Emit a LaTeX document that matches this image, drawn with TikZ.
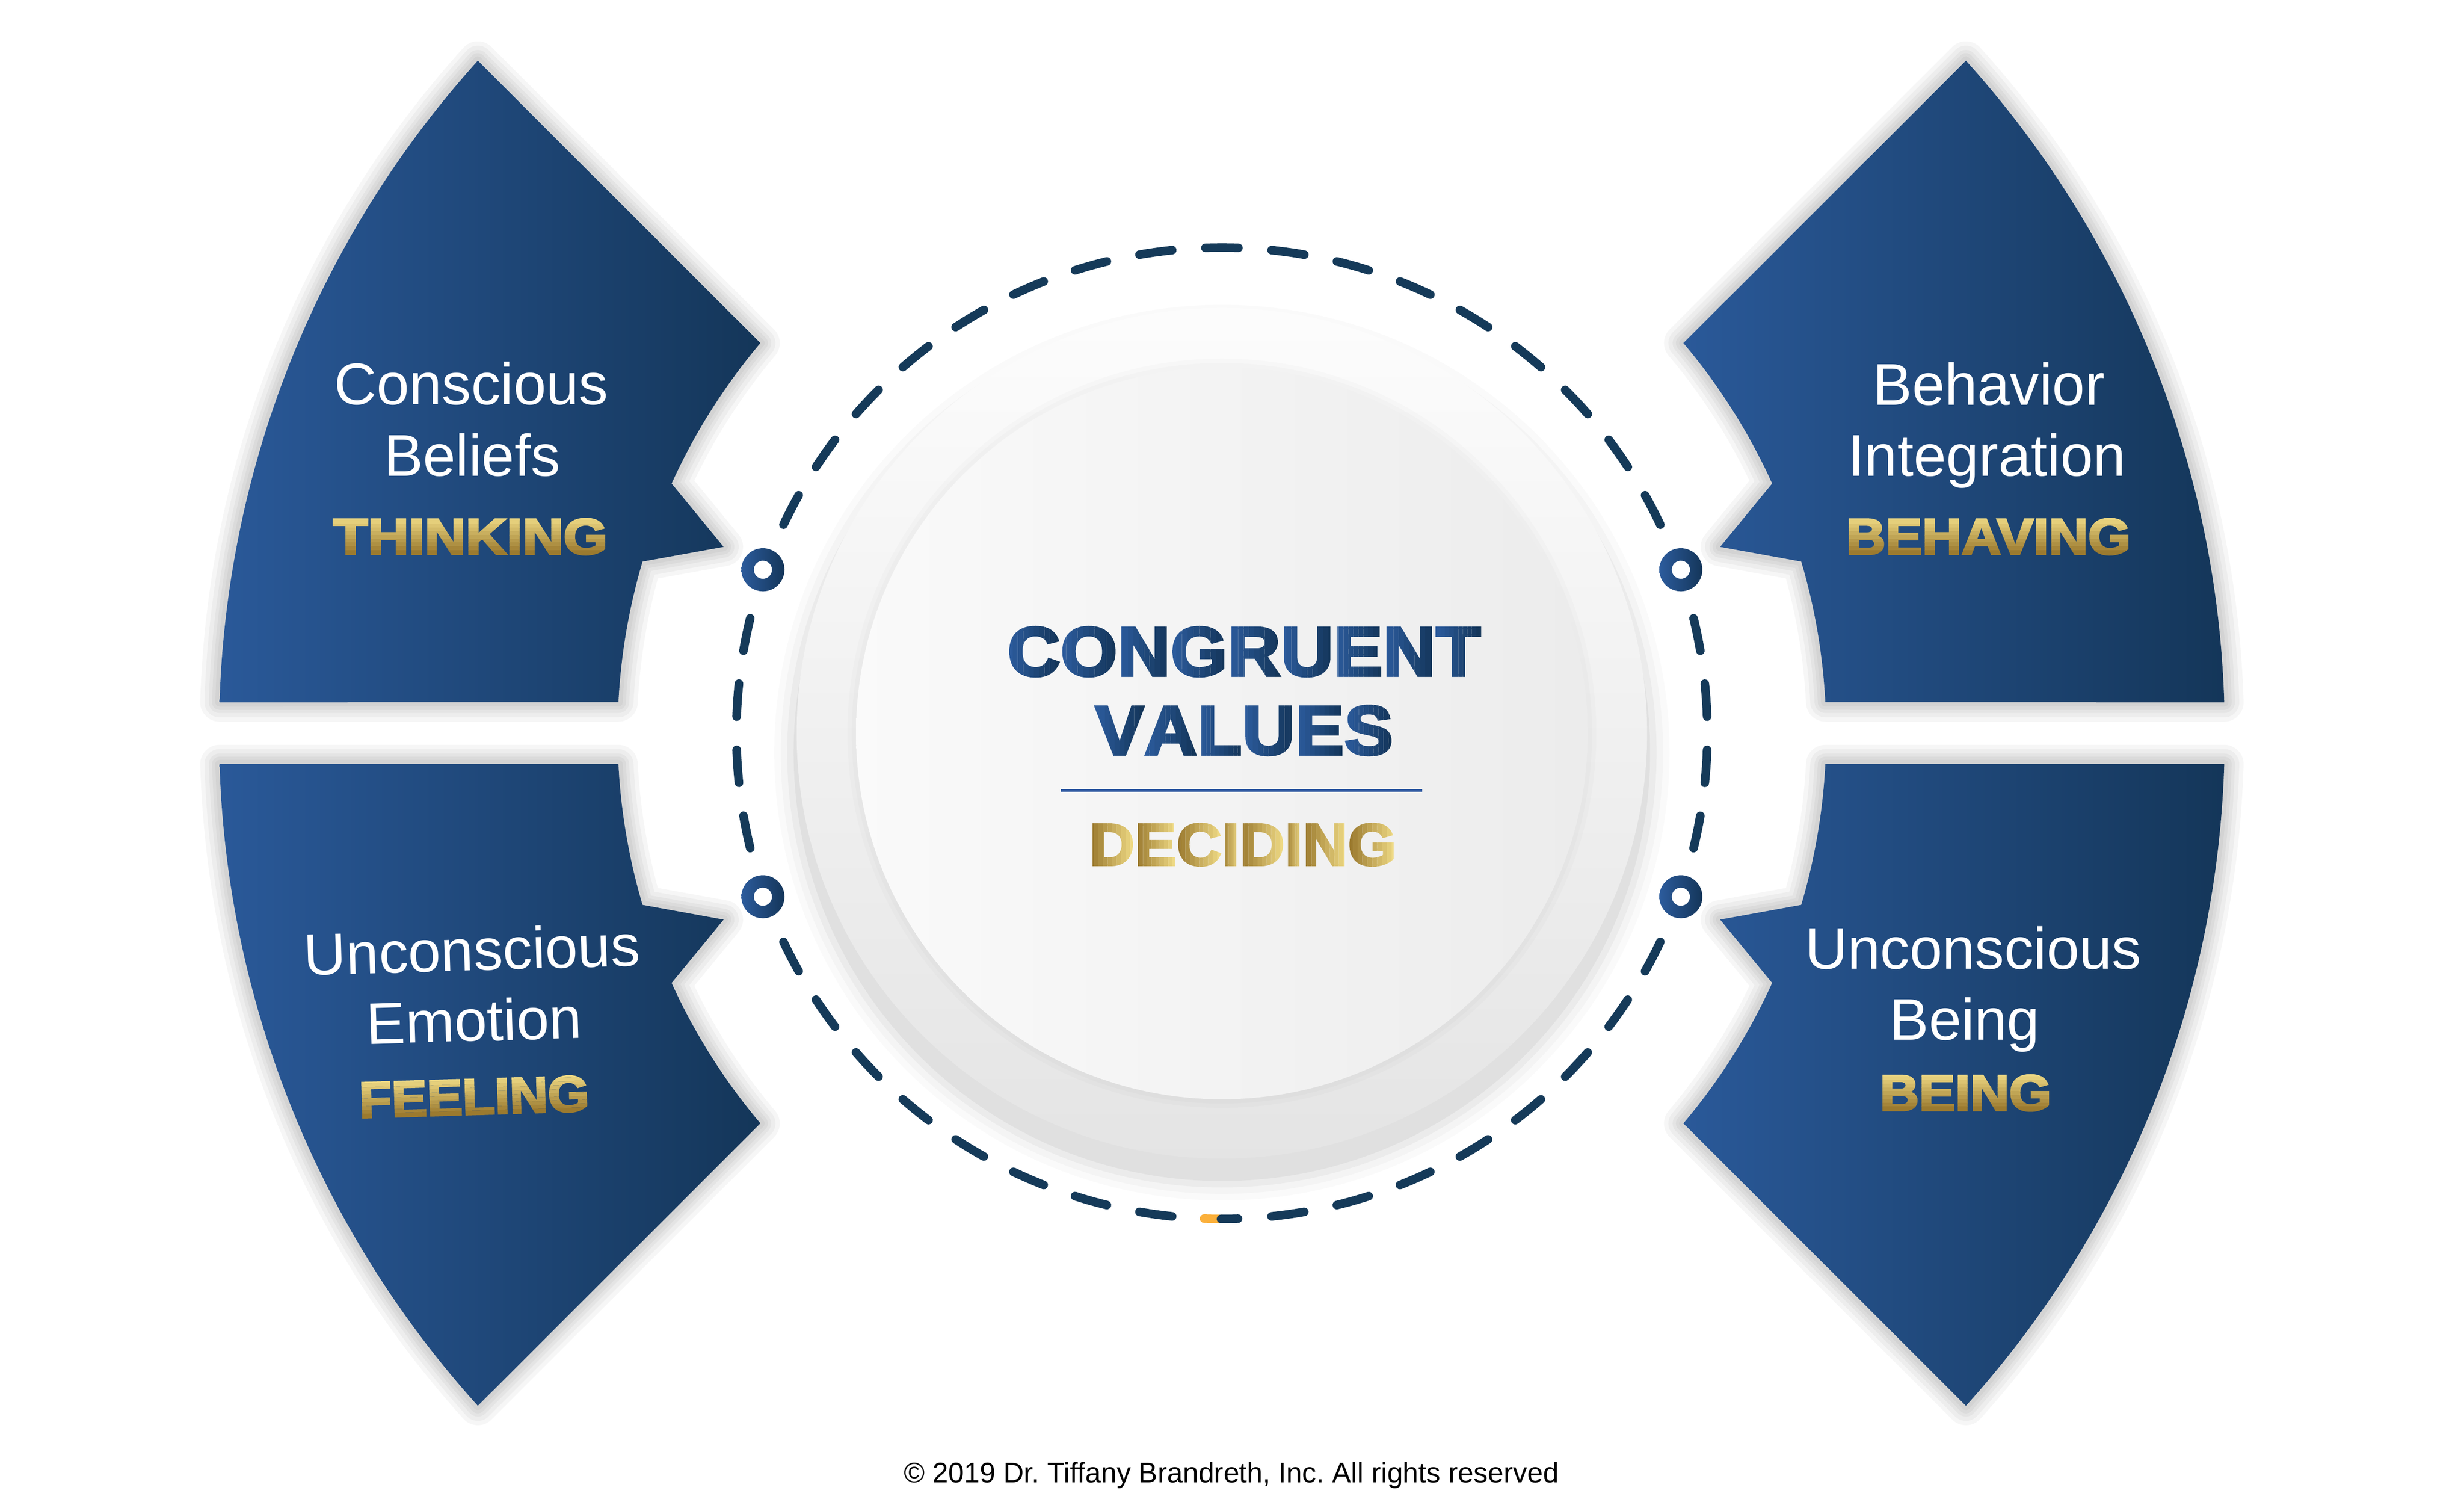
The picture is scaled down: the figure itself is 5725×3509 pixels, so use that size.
\documentclass[tikz,border=0pt]{standalone}
\usepackage{fontspec}
\setmainfont{Liberation Sans}
\newfontfamily\heavyfont{Liberation Sans}[BoldFeatures={FakeBold=4}, FakeStretch=1.05]
\newcommand\hv{\heavyfont\bfseries}
\usetikzlibrary{calc}
\definecolor{navyL}{RGB}{44,91,156}
\definecolor{navyR}{RGB}{20,54,90}
\definecolor{shapeL}{RGB}{42,89,153}
\definecolor{shapeR}{RGB}{20,54,89}
\definecolor{dashc}{RGB}{21,58,89}
\definecolor{orng}{RGB}{251,176,59}
\definecolor{goldL}{RGB}{238,217,132}
\definecolor{goldD}{RGB}{155,122,47}
\definecolor{rulec}{RGB}{43,86,160}
\frenchspacing

\tikzset{
  wing/.style 2 args={insert path={
    ({#1+(#2)*178.23}:2330) arc[start angle={#1+(#2)*178.23}, end angle={#1+(#2)*137.9}, radius=2330]
    -- ({#1+(#2)*139.8}:1404) arc[start angle={#1+(#2)*139.8}, end angle={#1+(#2)*155.6}, radius=1404]
    -- ({#1+(#2)*159.5}:1236) -- ({#1+(#2)*163.5}:1404)
    arc[start angle={#1+(#2)*163.5}, end angle={#1+(#2)*177.06}, radius=1404] -- cycle}},
  lbl/.style={text=white, inner sep=0, anchor=base, font=\fontsize{38.8pt}{46pt}\selectfont},
  dashseg/.style={dashc, line width=0.2cm, line cap=round},
}

% vertical gold gradient word (light top -> dark bottom)
% #1 name, #2 base point, #3 rotation, #4 x-stretch, #5 text
\newcommand\goldword[5]{%
  \foreach \j in {0,...,9}{%
    \pgfmathtruncatemacro\pc{100*\j/9}%
    \pgfmathsetmacro\ylo{\j==9 ? -150 : 88*(1-(\j+1)/10)}%
    \pgfmathsetmacro\yhi{\j==0 ? 300 : 88*(1-\j/10)}%
    \begin{scope}[shift={#2}, rotate=#3, xscale=#4]
      \clip (-900,\ylo) rectangle (900,\yhi);
      \node[anchor=base, inner sep=0, transform shape, text=goldD!\pc!goldL,
            font={\hv\fontsize{33.4pt}{38pt}\selectfont}] (#1-\j) at (0,0) {#5};
    \end{scope}}}

% per-letter horizontal gradient word
% #1 name, #2 base centre, #3 font, #4 left colour, #5 right colour, #6 word, #7 letters
\newcommand\lettergrad[7]{%
  \node[anchor=base, inner sep=0, font=#3] (#1) at #2 {\phantom{#6}};
  \coordinate (#1-cur) at (#1.base west);
  \foreach \l [count=\k] in {#7}{%
    \node[anchor=base west, inner sep=0, font=#3] (#1-\k) at (#1-cur) {\phantom{\l}};
    \foreach \j in {0,...,9}{%
      \pgfmathtruncatemacro\pc{100*\j/9}%
      \pgfmathsetmacro\xa{\j==0 ? -40 : 0}%
      \pgfmathsetmacro\xb{\j==9 ? 40 : 0}%
      \begin{scope}
        \clip ($(#1-\k.base west)!{\j/10}!(#1-\k.base east)+(\xa,-200)$) rectangle
              ($(#1-\k.base west)!{(\j+1)/10}!(#1-\k.base east)+(\xb,400)$);
        \node[anchor=base west, inner sep=0, font=#3, text=#5!\pc!#4] (#1-\k-\j) at (#1-\k.base west) {\l};
      \end{scope}}%
    \coordinate (#1-cur) at (#1-\k.base east);
  }}

\begin{document}
\begin{tikzpicture}[x=0.01cm,y=0.01cm]
\fill[white] (-2839,-1806) rectangle (2886,1703);
\useasboundingbox (-2839,-1806) rectangle (2886,1703);

% ---- wings: shadows then gradient fills
\foreach \a/\b in {0/1, 180/-1, 0/-1, -180/1}{
  \foreach \w in {0.9,0.7,0.5,0.35,0.2}
    \draw[black, opacity=0.035, line width=\w cm, line join=round, wing={\a}{\b}];
  \shade[left color=shapeL, right color=shapeR, wing={\a}{\b}];
}

% ---- central disc
\foreach \r/\o in {1040/0.018, 1025/0.025, 1010/0.035, 995/0.045}
  \fill[black, opacity=\o] (0,-45) circle (\r);
\shade[top color=gray!2, bottom color=gray!21] (0,0) circle (988);
\foreach \w in {0.4,0.2}
  \draw[black, opacity=0.015, line width=\w cm] (0,0) circle (850);
\shade[left color=gray!4, right color=gray!15] (0,0) circle (850);

% ---- dashed ring
\foreach \k in {0,...,8,10,11,12,13,15,16,...,22,24,25,...,31,33,34,35,36,38,39,...,45}{
  \pgfmathsetmacro\th{90+7.826*\k}
  \draw[dashseg] ({\th-1.95}:1128) arc[start angle={\th-1.95}, end angle={\th+1.95}, radius=1128];
}
\draw[dashseg, orng] (267.9:1128) arc[start angle=267.9, end angle=270, radius=1128];
\draw[dashseg] (269.9:1128) arc[start angle=269.9, end angle=271.9, radius=1128];

% ---- ring markers
\foreach \a/\n in {19.6/mTR, 160.4/mTL, -19.6/mBR, -160.4/mBL}{
  \coordinate (\n) at (\a:1132);
  \shade[left color=navyL, right color=navyR] (\n) circle (50);
  \fill[white] (\n) circle (21);
}

% ---- wing labels
\node[lbl] (tl1) at (-1744,764) {Conscious};
\node[lbl] (tl2) at (-1742,597) {Beliefs};
\goldword{tl3}{(-1746,416)}{0}{1.07}{THINKING}

\node[lbl] (tr1) at (1782,762) {Behavior};
\node[lbl] (tr2) at (1778,597) {Integration};
\goldword{tr3}{(1781,416)}{0}{1.03}{BEHAVING}

\node[lbl, rotate=1.7] (bl1) at (-1741,-551) {Unconscious};
\node[lbl, rotate=1.7] (bl2) at (-1736,-715) {Emotion};
\goldword{bl3}{(-1736,-885)}{1.7}{1.0}{FEELING}

\node[lbl] (br1) at (1746,-547) {Unconscious};
\node[lbl] (br2) at (1726,-712) {Being};
\goldword{br3}{(1728,-876)}{0}{1.02}{BEING}

% ---- centre text
\lettergrad{cg}{(46,134)}{\hv\fontsize{45.7pt}{50pt}\selectfont}{navyL}{navyR}{CONGRUENT}{C,O,N,G,R,U,E,N,T}
\lettergrad{vl}{(42,-49)}{\hv\fontsize{45.7pt}{50pt}\selectfont}{navyL}{navyR}{VALUES}{V,A,L,U,E,S}
\coordinate (ruleL) at (-374,-133);
\coordinate (ruleR) at (465,-133);
\draw[rulec, line width=0.06cm] (ruleL) -- (ruleR);
\lettergrad{dc}{(44,-306)}{\hv\fontsize{38.9pt}{44pt}\selectfont}{goldD}{goldL}{DECIDING}{D,E,C,I,D,I,N,G}

% ---- copyright
\node[anchor=base, inner sep=0, font=\fontsize{18.7pt}{22pt}\selectfont] (copy) at (22,-1741)
  {© 2019 Dr. Tiffany Brandreth, Inc. All rights reserved};
\end{tikzpicture}
\end{document}
